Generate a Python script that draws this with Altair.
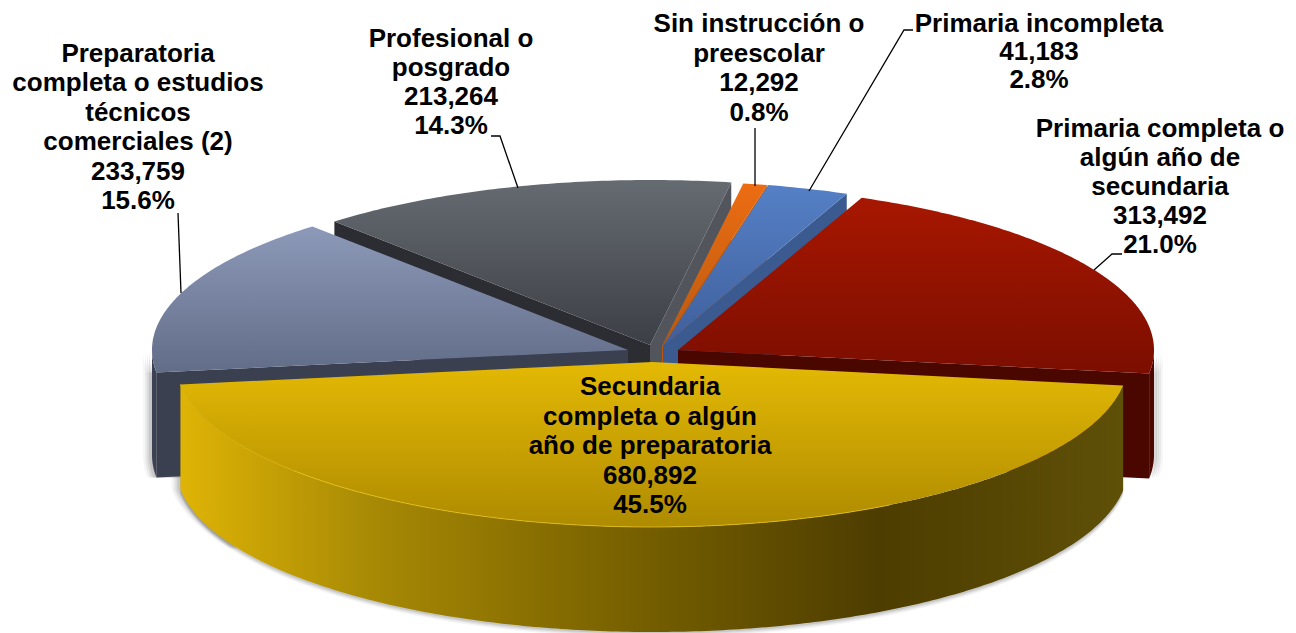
import numpy as np
import pandas as pd
import altair as alt

# ---- data ----
categories = ["Secundaria completa o algún año de preparatoria",
              "Preparatoria completa o estudios técnicos comerciales (2)",
              "Profesional o posgrado", "Sin instrucción o preescolar",
              "Primaria incompleta", "Primaria completa o algún año de secundaria"]
values = [680892, 233759, 213264, 12292, 41183, 313492]
percents = ["45.5%", "15.6%", "14.3%", "0.8%", "2.8%", "21.0%"]
value_labels = ["680,892", "233,759", "213,264", "12,292", "41,183", "313,492"]
wrapped_names = [
    ["Secundaria", "completa o algún", "año de preparatoria"],
    ["Preparatoria", "completa o estudios", "técnicos", "comerciales (2)"],
    ["Profesional o", "posgrado"],
    ["Sin instrucción o", "preescolar"],
    ["Primaria incompleta"],
    ["Primaria completa o", "algún año de", "secundaria"],
]

# ---- layout (pixels of the page) ----
label_x = [650, 138, 451, 759, 1039, 1160]
label_top = [387, 54, 39, 24, 24, 129]
label_step = [29.5, 29.4, 29, 29.6, 28, 29]
centers = [(652, 362), (628, 350), (650, 345), (662, 346), (663, 346), (678, 350)]
RX, RY, DEPTH = 476, 165, 105
START_DEG = 8.2
leaders = [
    [(178, 213), (181, 293)],
    [(491, 136), (500, 136), (518, 188)],
    [(755, 128), (755, 186)],
    [(913, 30), (904, 30), (809, 191)],
    [(1122, 254), (1112, 254), (1094, 270)],
]


def vgrad(top, bottom):
    return alt.Gradient(gradient="linear", x1=0, x2=0, y1=0, y2=1,
                        stops=[alt.GradientStop(color=top, offset=0),
                               alt.GradientStop(color=bottom, offset=1)])


def hgrad(pairs):
    return alt.Gradient(gradient="linear", x1=0, x2=1, y1=0, y2=0,
                        stops=[alt.GradientStop(color=c, offset=o) for o, c in pairs])


total = sum(values)
spans = [v / total * 360 for v in values]
starts = [START_DEG + sum(spans[:i]) for i in range(len(spans))]
ends = [s + w for s, w in zip(starts, spans)]

X = alt.X("x:Q", axis=None, scale=alt.Scale(domain=[8, 1288], nice=False, zero=False))
Y = alt.Y("y:Q", axis=None, scale=alt.Scale(domain=[633, 8], nice=False, zero=False))


def ell(i, deg, drop=0):
    t = np.radians(deg)
    cx, cy = centers[i]
    return (cx + RX * np.cos(t), cy + RY * np.sin(t) + drop)


def arc(i, a, b, drop=0):
    n = max(3, int(abs(b - a) * 1.5))
    return [ell(i, d, drop) for d in np.linspace(a, b, n)]


def poly(points, fill, opacity=1.0, dx=0, dy=0):
    df = pd.DataFrame({"x": [p[0] + dx for p in points],
                       "y": [p[1] + dy for p in points],
                       "o": range(len(points))})
    return alt.Chart(df).mark_line(fill=fill, strokeWidth=0, strokeOpacity=0,
                                   interpolate="linear-closed", opacity=opacity,
                                   clip=True).encode(
        x=X, y=Y, order="o:Q")


def top(i, fill):
    return poly([centers[i]] + arc(i, starts[i], ends[i]), fill)


def radial(i, deg, fill):
    cx, cy = centers[i]
    tip = ell(i, deg)
    return poly([(cx, cy), tip, (tip[0], tip[1] + DEPTH), (cx, cy + DEPTH)], fill)


def outer(i, a, b, fill, opacity=1.0, dx=0, dy=0):
    return poly(arc(i, a, b) + arc(i, b, a, DEPTH), fill, opacity, dx, dy)


layers = []
# soft shadows
for off, op in [(9, .05), (7, .08), (5, .1), (3, .14)]:
    layers.append(outer(0, starts[0], ends[0], "#555555", op, 0, off * 0.6))
    layers.append(outer(0, 150, ends[0], "#555555", op, -off, 0))
    layers.append(outer(1, starts[1], 180, "#555555", op, -off, 0))
    layers.append(radial(1, starts[1], "#555555") if False else
                  poly([ell(1, starts[1]), ell(1, starts[1], DEPTH),
                        (ell(1, starts[1])[0] + 30, ell(1, starts[1], DEPTH)[1]),
                        (ell(1, starts[1])[0] + 30, ell(1, starts[1])[1])],
                       "#555555", op, -off, 0))
    layers.append(outer(5, 0, ends[5] - 360, "#555555", op, off, 0))

# back to front
layers += [radial(2, starts[2], "#2c2d33"), radial(2, ends[2], "#52565c"),
           top(2, vgrad("#666b72", "#3c3f45"))]
layers += [radial(3, ends[3], "#b8560f"), top(3, vgrad("#ec6c12", "#b95a10"))]
layers += [radial(4, ends[4], "#3b5a90"), top(4, vgrad("#5580c6", "#3f5f9b"))]
layers += [outer(5, 360, ends[5], "#4a0700"), radial(5, ends[5] - 360, "#4a0700"),
           top(5, vgrad("#a71700", "#7c0e00"))]
layers += [outer(1, starts[1], 180, "#3c4254"), radial(1, starts[1], "#3a4050"),
           top(1, vgrad("#8c99b8", "#626d88"))]
layers += [outer(0, starts[0], ends[0],
                 hgrad([(0, "#dfb406"), (0.2, "#a88a05"), (0.45, "#7c6400"),
                        (0.74, "#4d3d00"), (1, "#5f5008")])),
           top(0, vgrad("#e4b905", "#ae8b00"))]
rim_pts = arc(0, 60, ends[0])
rim = pd.DataFrame({"x": [p[0] for p in rim_pts], "y": [p[1] for p in rim_pts]})
rim["o"] = range(len(rim))
layers.append(alt.Chart(rim).mark_line(color="#e6c010", strokeWidth=1, opacity=.8)
              .encode(x=X, y=Y, order="o:Q"))

# leader lines
for seg in leaders:
    d = pd.DataFrame({"x": [p[0] for p in seg], "y": [p[1] for p in seg], "o": range(len(seg))})
    layers.append(alt.Chart(d).mark_line(color="#000000", strokeWidth=1.3)
                  .encode(x=X, y=Y, order="o:Q"))

# labels
rows = []
for i in range(len(categories)):
    lines = wrapped_names[i] + [value_labels[i], percents[i]]
    for k, t in enumerate(lines):
        rows.append({"x": label_x[i], "y": label_top[i] + k * label_step[i], "t": t})
layers.append(alt.Chart(pd.DataFrame(rows)).mark_text(
    font="Liberation Sans", fontWeight="bold", fontSize=26, color="#000000",
    align="center", baseline="middle").encode(x=X, y=Y, text="t:N"))

chart = alt.layer(*layers).properties(width=1280, height=625, padding=0, background="white").configure_view(stroke=None)
chart.save("out.html", embed_options={"renderer": "svg", "actions": False})
